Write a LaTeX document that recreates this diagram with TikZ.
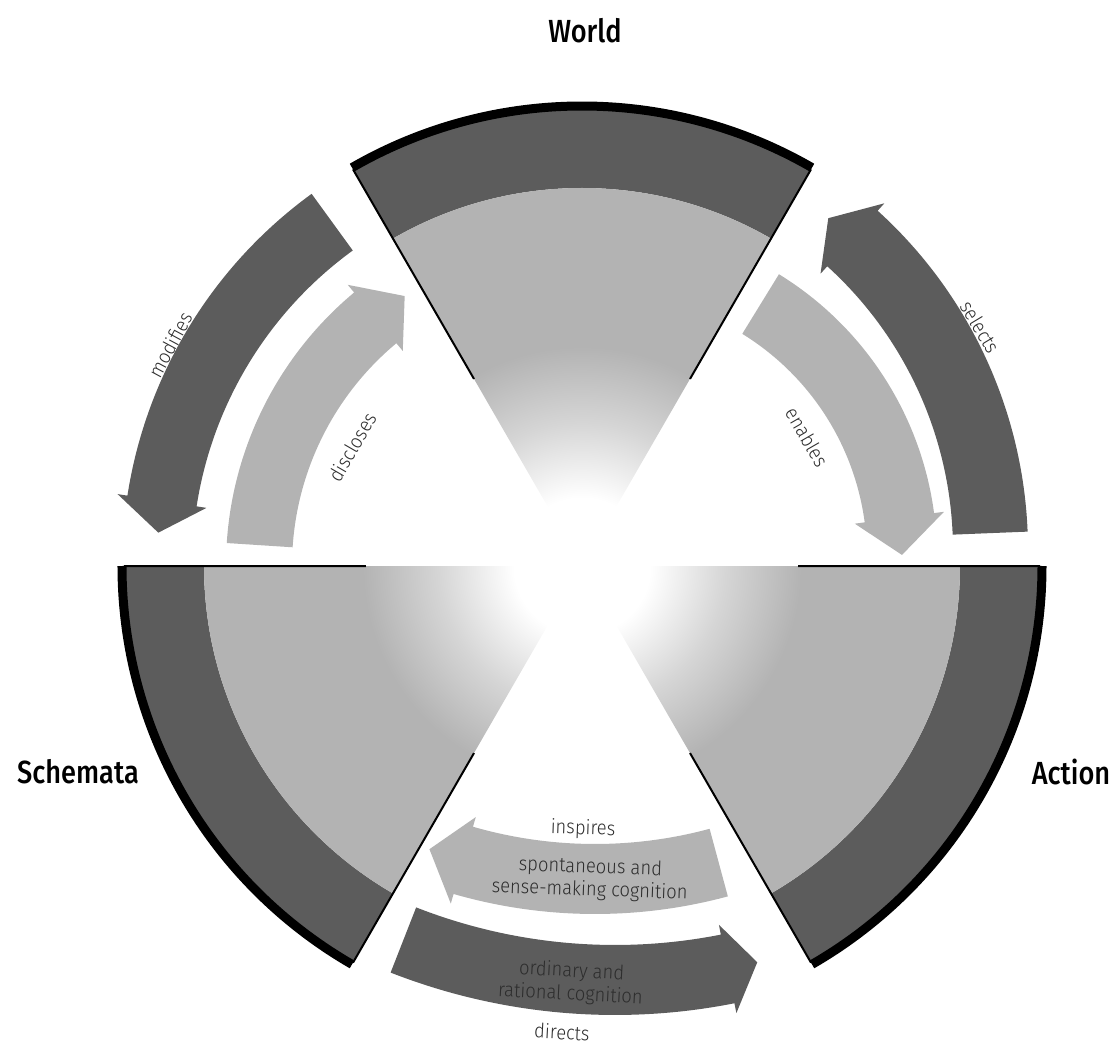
\documentclass[tikz,border=0pt]{standalone}
\usepackage{fontspec}
\setmainfont{Fira Sans}
\newfontfamily\titlefont{Fira Sans Medium}[FakeStretch=0.85]
\newfontfamily\thinfont{Fira Sans Light}[FakeStretch=0.92]
\usetikzlibrary{calc}
\definecolor{BandColor}{RGB}{92,92,92}
\definecolor{FillColor}{RGB}{179,179,179}
\definecolor{TextColor}{RGB}{45,45,45}

\pgfdeclareradialshading{hubfade}{\pgfpointorigin}{%
    color(0bp)=(white); color(4.5bp)=(white); color(9.5bp)=(FillColor!55!white);
    color(14.5bp)=(FillColor); color(50bp)=(FillColor)}

% colour, centre x, centre y, inner radius, outer radius, tail, head base, tip
\newcommand{\bentarrow}[8]{%
    \begin{scope}[shift={(#2,#3)}]
        \fill[#1] (#6:#5) arc[start angle=#6, end angle=#7, radius=#5]
            -- (#7:{#5+10}) -- (#8:{(#4+#5)/2}) -- (#7:{#4-10}) -- (#7:#4)
            arc[start angle=#7, end angle=#6, radius=#4] -- cycle;
    \end{scope}}

\begin{document}
\begin{tikzpicture}[x=1pt, y=1pt,
    title/.style={font=\titlefont\fontsize{32}{32}\selectfont, text=black, inner sep=0pt},
    verb/.style={font=\thinfont\fontsize{20}{23}\selectfont, text=TextColor,
        inner sep=0pt, align=center}]

    \useasboundingbox (-582,-478) rectangle (528,566);

    % the three sectors
    \foreach \a in {60,180,300} {
        \begin{scope}
            \clip (0,0) -- (\a:458) arc[start angle=\a, end angle=\a+60, radius=458] -- cycle;
            \fill[BandColor, even odd rule] (0,0) circle[radius=458] circle[radius=378];
            \shade[shading=hubfade] (0,0) circle[radius=378];
        \end{scope}
        \draw[line width=9] (\a:460) arc[start angle=\a, end angle=\a+60, radius=460];
        \draw[line width=2] (\a:216) -- (\a:458) ({\a+60}:216) -- ({\a+60}:458);
    }

    % arrows between the sectors
    \bentarrow{BandColor}{0}{0}{390}{460}{126}{171.2}{175.5}
    \bentarrow{FillColor}{0}{0}{290}{356}{176.3}{129.8}{123.3}
    \bentarrow{BandColor}{-12}{16}{383}{458}{2.3}{47.8}{52.1}
    \bentarrow{FillColor}{23}{9}{262}{332}{58.4}{7.6}{0.4}
    \bentarrow{FillColor}{13}{162}{440}{510}{-74.9}{-106.1}{-110.4}
    \bentarrow{BandColor}{33}{166}{545}{615}{-111.4}{-78.8}{-75.8}

    \node[title] (World) at (3,535) {World};
    \node[title] (Schemata) at (-504,-206) {Schemata};
    \node[title] (Action) at (489,-206) {Action};

    \node[verb, rotate=61.7] (Modifies) at (-412,221) {modifies};
    \node[verb, rotate=60] (Discloses) at (-230,119) {discloses};
    \node[verb, rotate=-59] (Selects) at (398,239) {selects};
    \node[verb, rotate=-60] (Enables) at (225,129) {enables};
    \node[verb, rotate=-2] (Inspires) at (1,-263) {inspires};
    \node[verb, rotate=-2] (Spontaneous) at (8,-313) {spontaneous and\\sense-making cognition};
    \node[verb, rotate=-3] (Ordinary) at (-11,-417) {ordinary and\\rational cognition};
    \node[verb, rotate=-3] (Directs) at (-20,-466) {directs};

\end{tikzpicture}
\end{document}
